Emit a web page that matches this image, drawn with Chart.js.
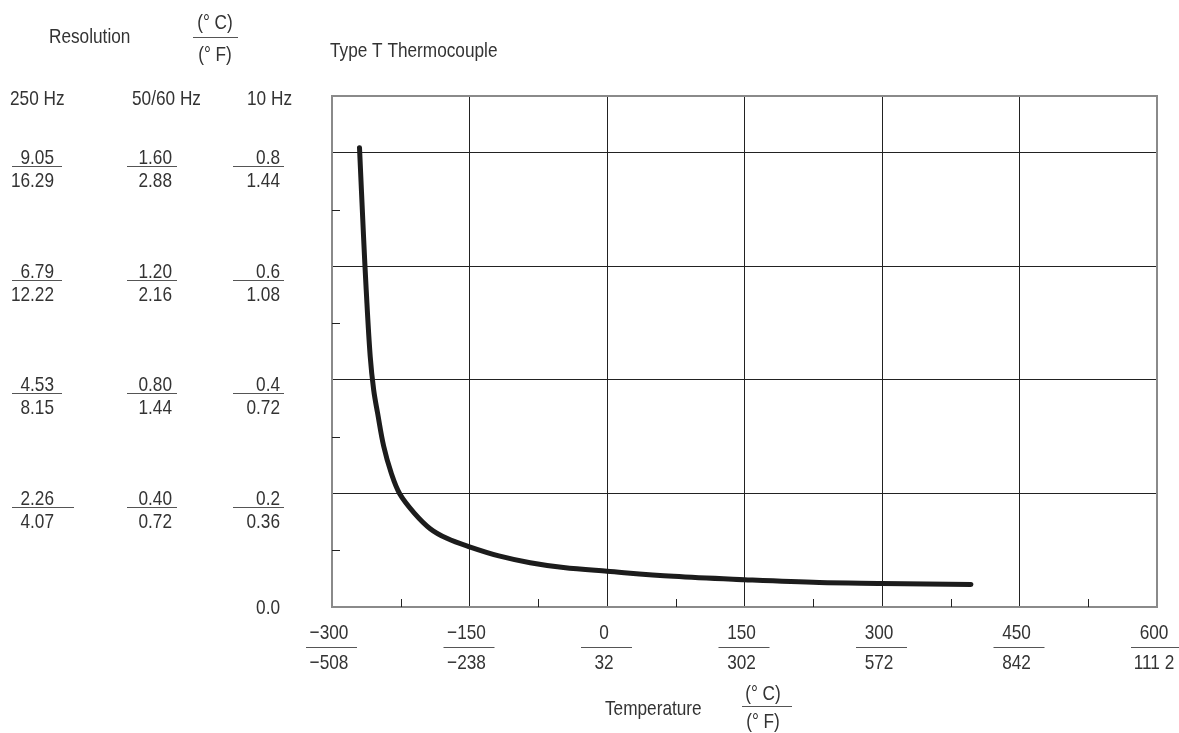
<!DOCTYPE html>
<html>
<head>
<meta charset="utf-8">
<script src="https://cdn.jsdelivr.net/npm/chart.js@4/dist/chart.umd.min.js"></script>
<style>
  body { margin: 0; background: #fff; }
  #wrap { width: 1179px; height: 733px; position: relative; }
</style>
</head>
<body>
<div id="wrap"><canvas id="tcChart"></canvas></div>
<script>
// temperature axis (deg C over deg F)
const tempC = [-300, -150, 0, 150, 300, 450, 600];
const tempF = ["\u2212508", "\u2212238", "32", "302", "572", "842", "111 2"];
const tempMinor = [-225, -75, 75, 225, 375, 525];

// resolution axis, one column per filter rate (deg C over deg F)
const resTicks = [0.8, 0.6, 0.4, 0.2];
const resMinor = [0.1, 0.3, 0.5, 0.7];
const res250C = ["9.05", "6.79", "4.53", "2.26"];
const res250F = ["16.29", "12.22", "8.15", "4.07"];
const res5060C = ["1.60", "1.20", "0.80", "0.40"];
const res5060F = ["2.88", "2.16", "1.44", "0.72"];
const res10C = ["0.8", "0.6", "0.4", "0.2"];
const res10F = ["1.44", "1.08", "0.72", "0.36"];

// curve
const curveTemp = [-270, -265.6, -262.7, -258.3, -254.5, -250.2, -243.6, -235.4, -226, -210, -192.9, -174.7, -150, -118, -83.8, -47.5, 0, 72.6, 150, 231.6, 300, 397];
const curveRes = [0.809, 0.653, 0.559, 0.441, 0.382, 0.341, 0.283, 0.236, 0.199, 0.165, 0.138, 0.121, 0.106, 0.09, 0.078, 0.0695, 0.063, 0.054, 0.048, 0.043, 0.0415, 0.0395];

const FONT = "21px 'Liberation Sans', Arial, sans-serif";
const TXT = "#333";
const NARROW = 0.82; // squeeze Liberation Sans to look like the condensed face

function txt(ctx, s, x, y, align) {
  ctx.save();
  ctx.translate(x, y);
  ctx.scale(NARROW, 1);
  ctx.textAlign = align || "left";
  ctx.fillText(s, 0, 0);
  ctx.restore();
}

function hline(ctx, x1, x2, y) {
  ctx.beginPath();
  ctx.moveTo(x1, y);
  ctx.lineTo(x2, y);
  ctx.stroke();
}

function fraction(ctx, top, bottom, textX, lineL, lineR, yBase) {
  txt(ctx, top, textX, yBase, "right");
  txt(ctx, bottom, textX, yBase + 23, "right");
  hline(ctx, lineL, lineR, Math.round(yBase + 2) + 0.5);
}

const labelsPlugin = {
  id: "labels",
  afterDraw(chart) {
    const ctx = chart.ctx;
    const xs = chart.scales.x, ys = chart.scales.y;
    const a = chart.chartArea;
    ctx.save();

    // plot frame
    ctx.strokeStyle = "#8a8a8a";
    ctx.lineWidth = 2;
    ctx.strokeRect(a.left, a.top, a.right - a.left, a.bottom - a.top);

    // minor ticks
    ctx.strokeStyle = "#222";
    ctx.lineWidth = 1;
    ctx.beginPath();
    tempMinor.forEach(v => {
      const px = Math.round(xs.getPixelForValue(v)) + 0.5;
      ctx.moveTo(px, a.bottom);
      ctx.lineTo(px, a.bottom - 8);
    });
    resMinor.forEach(v => {
      const py = Math.round(ys.getPixelForValue(v)) + 0.5;
      ctx.moveTo(a.left, py);
      ctx.lineTo(a.left + 8, py);
    });
    ctx.stroke();

    ctx.font = FONT;
    ctx.fillStyle = TXT;
    ctx.strokeStyle = "#555";
    ctx.lineWidth = 1;
    ctx.textBaseline = "alphabetic";

    // x tick fractions
    tempC.forEach((v, i) => {
      const px = xs.getPixelForValue(v);
      const c = String(v).replace("-", "\u2212");
      txt(ctx, c, px - 3, 639, "center");
      txt(ctx, tempF[i], px - 3, 669, "center");
      hline(ctx, px - 26, px + 25, 647.5);
    });

    // y label columns
    resTicks.forEach((v, i) => {
      const yb = ys.getPixelForValue(v) + 11.5;
      fraction(ctx, res250C[i], res250F[i], 54, 12, i === 3 ? 74 : 62, yb);
      fraction(ctx, res5060C[i], res5060F[i], 172, 127, 177, yb);
      fraction(ctx, res10C[i], res10F[i], 280, 233, 284, yb);
    });
    txt(ctx, "0.0", 280, ys.getPixelForValue(0) + 7, "right");

    // column headers
    txt(ctx, "250 Hz", 10, 105, "left");
    txt(ctx, "50/60 Hz", 132, 105, "left");
    txt(ctx, "10 Hz", 292, 105, "right");

    // titles
    txt(ctx, "Resolution", 49, 43, "left");
    txt(ctx, "Type T Thermocouple", 330, 57, "left");
    txt(ctx, "Temperature", 605, 715, "left");
    txt(ctx, "(\u00b0 C)", 215, 29, "center");
    txt(ctx, "(\u00b0 F)", 215, 61, "center");
    txt(ctx, "(\u00b0 C)", 763, 700, "center");
    txt(ctx, "(\u00b0 F)", 763, 728, "center");
    hline(ctx, 193, 238, 37.5);
    hline(ctx, 742, 792, 706.5);

    ctx.restore();
  }
};

new Chart("tcChart", {
  type: "line",
  data: {
    datasets: [{
      data: curveTemp.map((t, i) => ({ x: t, y: curveRes[i] })),
      borderColor: "#1c1c1c",
      borderWidth: 5,
      borderCapStyle: "round",
      borderJoinStyle: "round",
      pointRadius: 0,
      tension: 0.35
    }]
  },
  plugins: [labelsPlugin],
  options: {
    responsive: true,
    maintainAspectRatio: false,
    animation: false,
    layout: { padding: { left: 332, right: 22, top: 96, bottom: 126 } },
    plugins: { legend: { display: false }, tooltip: { enabled: false } },
    scales: {
      x: {
        type: "linear",
        min: -300,
        max: 600,
        ticks: { stepSize: 150, display: false },
        border: { display: false },
        grid: {
          drawTicks: false,
          lineWidth: 1,
          color: c => (c.tick && (c.tick.value === -300 || c.tick.value === 600)) ? "rgba(0,0,0,0)" : "#222"
        }
      },
      y: {
        min: 0,
        max: 0.9,
        ticks: { stepSize: 0.2, display: false },
        border: { display: false },
        grid: {
          drawTicks: false,
          lineWidth: 1,
          color: c => (c.tick && (c.tick.value === 0 || c.tick.value > 0.85)) ? "rgba(0,0,0,0)" : "#222"
        }
      }
    }
  }
});
</script>
</body>
</html>
